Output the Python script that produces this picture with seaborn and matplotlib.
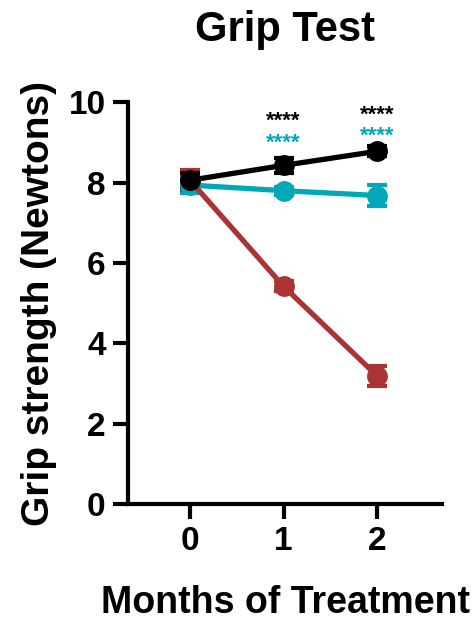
import matplotlib
matplotlib.use("Agg")
import matplotlib.pyplot as plt
import seaborn as sns
import pandas as pd

# data
months = [0, 1, 2]
groups = ["cyan", "red", "black"]
means = {
    "cyan": [7.94, 7.80, 7.68],
    "red": [8.06, 5.42, 3.19],
    "black": [8.06, 8.43, 8.78],
}
errs = {
    "cyan": [0.2, 0.1, 0.25],
    "red": [0.25, 0.12, 0.25],
    "black": [0.18, 0.18, 0.12],
}
colors = {"cyan": "#00A9B7", "red": "#AA3333", "black": "#000000"}
stars_x = [1, 2]
stars_black_y = [9.63, 9.80]
stars_cyan_y = [9.10, 9.28]

rows = []
for g in groups:
    for m, v in zip(months, means[g]):
        rows.append({"month": m, "value": v, "group": g})
df = pd.DataFrame(rows)

sns.set_style("ticks", {"axes.edgecolor": "black", "text.color": "black",
                        "xtick.color": "black", "ytick.color": "black",
                        "axes.labelcolor": "black"})
plt.rcParams["font.family"] = ["Liberation Sans", "DejaVu Sans"]
plt.rcParams["font.weight"] = "bold"

fig = plt.figure(figsize=(4.77, 6.2), dpi=100)
ax = fig.add_axes([0.268, 0.187, 0.659, 0.648])

for g in groups:
    sub = df[df["group"] == g]
    ax.errorbar(sub["month"], sub["value"], yerr=errs[g], fmt="none",
                ecolor=colors[g], elinewidth=3, capsize=7, capthick=3, zorder=2)
    sns.lineplot(data=sub, x="month", y="value", color=colors[g], lw=3.8,
                 marker="o", markersize=15, markeredgewidth=0, ax=ax, zorder=3)

# asterisks sit high in the line box, so anchor a bit below the visual centre
off = 0.25
for x, y in zip(stars_x, stars_black_y):
    ax.text(x, y - off, "****", color="black", ha="center", va="baseline", fontsize=16)
for x, y in zip(stars_x, stars_cyan_y):
    ax.text(x, y - off, "****", color=colors["cyan"], ha="center", va="baseline", fontsize=16)

ax.set_xlim(-0.663, 2.695)
ax.set_ylim(0, 10)
ax.set_xticks(months)
ax.set_yticks([0, 2, 4, 6, 8, 10])
ax.tick_params(axis="both", width=3, length=11, labelsize=24, pad=5, colors="black")
for lab in ax.get_xticklabels() + ax.get_yticklabels():
    lab.set_fontweight("bold")
for s in ["left", "bottom"]:
    ax.spines[s].set_linewidth(3)
    ax.spines[s].set_color("black")
sns.despine(ax=ax)

ax.set_xlabel("Months of Treatment", fontsize=27, fontweight="bold", labelpad=20)
ax.set_ylabel("Grip strength (Newtons)", fontsize=28, fontweight="bold", labelpad=8)
ax.set_title("Grip Test", fontsize=30, fontweight="bold", pad=44)

fig.savefig("out.png", dpi=100)
